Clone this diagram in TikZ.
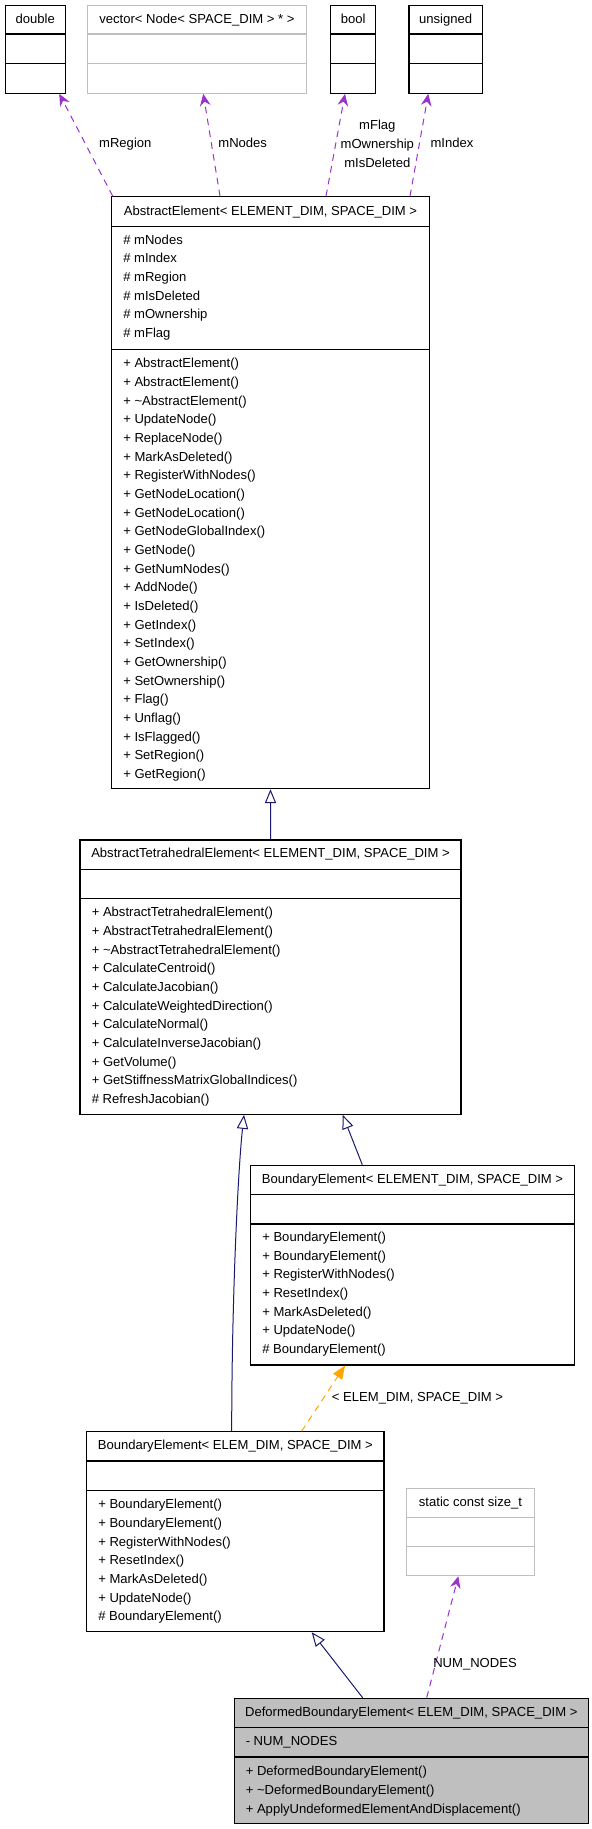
\documentclass[tikz,border=0pt]{standalone}
\usepackage{fontspec}
\setmainfont{Liberation Sans}
\usetikzlibrary{arrows.meta,fit}
\definecolor{usepurple}{HTML}{9A32CD}
\definecolor{tmplorange}{HTML}{FFA500}
\definecolor{isablue}{HTML}{191970}
\definecolor{nodoc}{HTML}{BFBFBF}
\begin{document}
\begin{tikzpicture}[x=0.75pt, y=-0.75pt, inner sep=0pt,
    font=\fontsize{9.8}{14}\selectfont,
    cls/.style={draw, line width=0.8pt},
    grey/.style={draw=nodoc, line width=0.8pt},
    title/.style={text height=7pt, text depth=0pt},
    members/.style={anchor=north west, align=left},
    lbl/.style={text height=7pt, text depth=0pt},
    uses/.style={usepurple, line width=0.75pt, dash pattern=on 5pt off 4pt,
      -{Stealth[length=9pt, width=8pt, inset=3pt]}},
    isa/.style={isablue, line width=0.75pt, -{Triangle[open, length=10.5pt, width=8.5pt]}},
    tmpl/.style={tmplorange, line width=0.75pt, dash pattern=on 5pt off 4pt,
      -{Triangle[length=10pt, width=8pt]}}]
  \useasboundingbox (0,0) rectangle (592,1829);
  % member types
  \node[cls, fit={(5.3,5.5) (65.3,93.3)}] (Dbl) {};
  \node[title] (Dblt) at (Dbl.north |- 0,19) {double};
  \draw[cls] (Dbl.west |- 0,34) -- (Dbl.east |- 0,34);
  \draw[cls] (Dbl.west |- 0,63.7) -- (Dbl.east |- 0,63.7);
  \node[grey, fit={(87.5,5.5) (306.4,93.3)}] (Vec) {};
  \node[title] (Vect) at (Vec.north |- 0,19) {vector< Node< SPACE\_DIM > * >};
  \draw[grey] (Vec.west |- 0,34) -- (Vec.east |- 0,34);
  \draw[grey] (Vec.west |- 0,63.7) -- (Vec.east |- 0,63.7);
  \node[cls, fit={(330.6,5.5) (375.8,93.3)}] (Bool) {};
  \node[title] (Boolt) at (Bool.north |- 0,19) {bool};
  \draw[cls] (Bool.west |- 0,34) -- (Bool.east |- 0,34);
  \draw[cls] (Bool.west |- 0,63.7) -- (Bool.east |- 0,63.7);
  \node[cls, fit={(409,5.5) (482.3,93.3)}] (Uns) {};
  \node[title] (Unst) at (Uns.north |- 0,19) {unsigned};
  \draw[cls] (Uns.west |- 0,34) -- (Uns.east |- 0,34);
  \draw[cls] (Uns.west |- 0,63.7) -- (Uns.east |- 0,63.7);
  % AbstractElement
  \node[cls, fit={(111.7,196.7) (429.3,788.7)}] (AE) {};
  \node[title] (AEt) at (AE.north |- 0,211) {AbstractElement< ELEMENT\_DIM, SPACE\_DIM >};
  \draw[cls] (AE.west |- 0,226.7) -- (AE.east |- 0,226.7);
  \draw[cls] (AE.west |- 0,349.3) -- (AE.east |- 0,349.3);
  \node[members] (AEa) at (123,230.9) {\strut\# mNodes\\ \# mIndex\\ \# mRegion\\
    \# mIsDeleted\\ \# mOwnership\\ \# mFlag};
  \node[members] (AEm) at (123,354.6) {\strut+ AbstractElement()\\ + AbstractElement()\\
    + \textasciitilde AbstractElement()\\ + UpdateNode()\\ + ReplaceNode()\\
    + MarkAsDeleted()\\ + RegisterWithNodes()\\ + GetNodeLocation()\\
    + GetNodeLocation()\\ + GetNodeGlobalIndex()\\ + GetNode()\\ + GetNumNodes()\\
    + AddNode()\\ + IsDeleted()\\ + GetIndex()\\ + SetIndex()\\ + GetOwnership()\\
    + SetOwnership()\\ + Flag()\\ + Unflag()\\ + IsFlagged()\\ + SetRegion()\\
    + GetRegion()};
  % AbstractTetrahedralElement
  \node[cls, fit={(80,840) (461,1114.3)}] (ATE) {};
  \node[title] (ATEt) at (ATE.north |- 0,853) {AbstractTetrahedralElement< ELEMENT\_DIM, SPACE\_DIM >};
  \draw[cls] (ATE.west |- 0,869.3) -- (ATE.east |- 0,869.3);
  \draw[cls] (ATE.west |- 0,898.7) -- (ATE.east |- 0,898.7);
  \node[members] (ATEm) at (91.5,903.6) {\strut+ AbstractTetrahedralElement()\\
    + AbstractTetrahedralElement()\\ + \textasciitilde AbstractTetrahedralElement()\\
    + CalculateCentroid()\\ + CalculateJacobian()\\ + CalculateWeightedDirection()\\
    + CalculateNormal()\\ + CalculateInverseJacobian()\\ + GetVolume()\\
    + GetStiffnessMatrixGlobalIndices()\\ \# RefreshJacobian()};
  % BoundaryElement< ELEMENT_DIM, SPACE_DIM >
  \node[cls, fit={(250.7,1165.3) (574.3,1365)}] (BE1) {};
  \node[title] (BE1t) at (BE1.north |- 0,1179) {BoundaryElement< ELEMENT\_DIM, SPACE\_DIM >};
  \draw[cls] (BE1.west |- 0,1194.7) -- (BE1.east |- 0,1194.7);
  \draw[cls] (BE1.west |- 0,1224) -- (BE1.east |- 0,1224);
  \node[members] (BE1m) at (262,1228.3) {\strut+ BoundaryElement()\\ + BoundaryElement()\\
    + RegisterWithNodes()\\ + ResetIndex()\\ + MarkAsDeleted()\\ + UpdateNode()\\
    \# BoundaryElement()};
  % BoundaryElement< ELEM_DIM, SPACE_DIM >
  \node[cls, fit={(86.7,1431.7) (384,1631.7)}] (BE2) {};
  \node[title] (BE2t) at (BE2.north |- 0,1445) {BoundaryElement< ELEM\_DIM, SPACE\_DIM >};
  \draw[cls] (BE2.west |- 0,1461) -- (BE2.east |- 0,1461);
  \draw[cls] (BE2.west |- 0,1490.3) -- (BE2.east |- 0,1490.3);
  \node[members] (BE2m) at (98,1495.6) {\strut+ BoundaryElement()\\ + BoundaryElement()\\
    + RegisterWithNodes()\\ + ResetIndex()\\ + MarkAsDeleted()\\ + UpdateNode()\\
    \# BoundaryElement()};
  % static const size_t
  \node[grey, fit={(406.7,1488.3) (534.3,1575.7)}] (SCS) {};
  \node[title] (SCSt) at (SCS.north |- 0,1501.5) {static const size\_t};
  \draw[grey] (SCS.west |- 0,1517.3) -- (SCS.east |- 0,1517.3);
  \draw[grey] (SCS.west |- 0,1546.7) -- (SCS.east |- 0,1546.7);
  % DeformedBoundaryElement
  \node[cls, fill=nodoc, fit={(234.3,1698.3) (588.3,1823.3)}] (DBE) {};
  \node[title] (DBEt) at (DBE.north |- 0,1712) {DeformedBoundaryElement< ELEM\_DIM, SPACE\_DIM >};
  \draw[cls] (DBE.west |- 0,1727.7) -- (DBE.east |- 0,1727.7);
  \draw[cls] (DBE.west |- 0,1757) -- (DBE.east |- 0,1757);
  \node[members] (DBEa) at (245.5,1732.3) {\strut- NUM\_NODES};
  \node[members] (DBEm) at (245.5,1762.6) {\strut+ DeformedBoundaryElement()\\
    + \textasciitilde DeformedBoundaryElement()\\
    + ApplyUndeformedElementAndDisplacement()};
  % usage edges
  \draw[uses] (AE.north -| 112.7,0) -- (Dbl.south -| 59.3,0);
  \draw[uses] (AE.north -| 220,0) -- (Vec.south -| 203.3,0);
  \draw[uses] (AE.north -| 326,0) -- (Bool.south -| 345,0);
  \draw[uses] (AE.north -| 410,0) -- (Uns.south -| 428.3,0);
  \draw[uses] (DBE.north -| 426.7,0) -- (SCS.south -| 458.3,0);
  \node[lbl] (lRegion) at (125.3,143.3) {mRegion};
  \node[lbl] (lNodes) at (242.7,143.3) {mNodes};
  \node[anchor=north, align=center] (lBool) at (377.3,116.6) {\strut mFlag\\ mOwnership\\ mIsDeleted};
  \node[lbl] (lIndex) at (452,143.3) {mIndex};
  \node[lbl] (lNum) at (475,1663.3) {NUM\_NODES};
  % inheritance edges
  \draw[isa] (ATE.north) -- (AE.south);
  \draw[isa] (BE1.north -| 362.3,0) -- (ATE.south -| 342.7,0);
  \draw[isa] (BE2.north -| 231.7,0) .. controls (231.7,1300) and (238,1170) .. (ATE.south -| 244,0);
  \draw[isa] (DBE.north -| 362.7,0) -- (BE2.south -| 311.7,0);
  \draw[tmpl] (BE2.north -| 301.7,0) -- (BE1.south -| 345,0);
  \node[lbl] (lTmpl) at (417.5,1396.7) {< ELEM\_DIM, SPACE\_DIM >};
\end{tikzpicture}
\end{document}
